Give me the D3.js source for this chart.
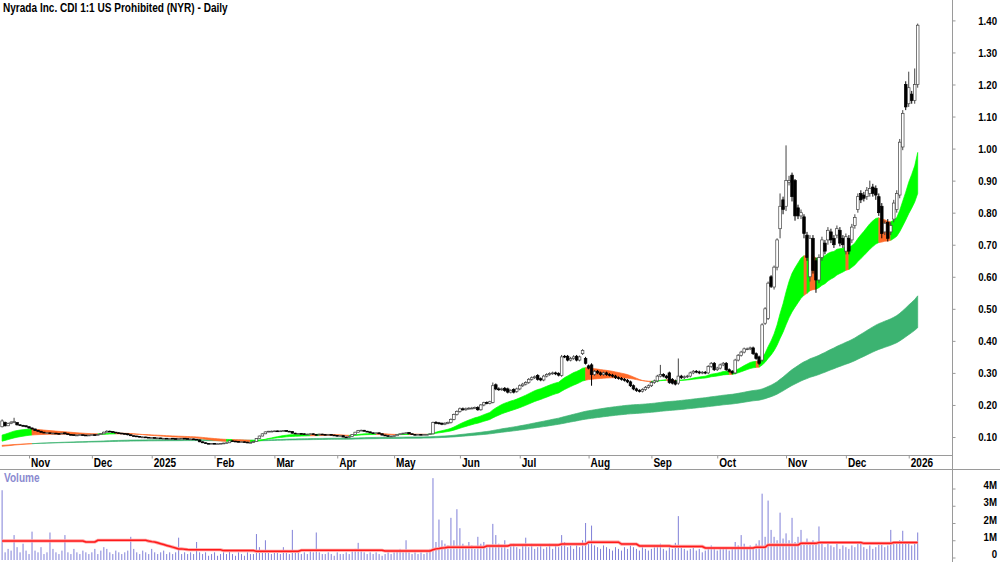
<!DOCTYPE html>
<html><head><meta charset="utf-8">
<script src="https://cdn.jsdelivr.net/npm/d3@7"></script>
<style>body{margin:0;background:#fff}svg{display:block}</style>
</head><body><svg id="c" width="1000" height="562"></svg>
<script>
const chartTitle = "Nyrada Inc. CDI 1:1 US Prohibited (NYR) - Daily";
const firstDay = "2024-10-21";
const holidays = ["2024-12-25","2024-12-26","2025-01-01","2025-01-27","2025-04-18","2025-04-21","2025-04-25","2025-06-09","2025-12-25","2025-12-26","2026-01-01"];
const monthLabels = ["Nov","Dec","2025","Feb","Mar","Apr","May","Jun","Jul","Aug","Sep","Oct","Nov","Dec","2026"];
const priceTicks = [0.1,0.2,0.3,0.4,0.5,0.6,0.7,0.8,0.9,1.0,1.1,1.2,1.3,1.4];
const volumeTicks = [0,1,2,3,4];
const volumeTickLabels = ["0","1M","2M","3M","4M"];

const opens = [
0.132,0.145,0.135,0.142,0.146,0.145,0.138,0.136,0.135,0.132,
0.128,0.125,0.121,0.118,0.115,0.113,0.113,0.112,0.112,0.111,
0.110,0.113,0.110,0.108,0.107,0.106,0.106,0.107,0.106,0.105,
0.106,0.107,0.106,0.108,0.110,0.115,0.118,0.117,0.115,0.113,
0.112,0.111,0.110,0.107,0.104,0.103,0.102,0.100,0.100,0.099,
0.098,0.098,0.097,0.097,0.096,0.096,0.095,0.096,0.095,0.094,
0.095,0.096,0.095,0.094,0.094,0.093,0.091,0.085,0.082,0.080,
0.079,0.080,0.079,0.079,0.080,0.081,0.082,0.088,0.087,0.086,
0.085,0.085,0.084,0.082,0.083,0.086,0.095,0.103,0.110,0.116,
0.118,0.118,0.119,0.118,0.119,0.120,0.118,0.117,0.112,0.110,
0.111,0.110,0.109,0.109,0.110,0.108,0.107,0.109,0.108,0.107,
0.108,0.106,0.105,0.103,0.104,0.100,0.099,0.102,0.108,0.115,
0.120,0.121,0.118,0.116,0.113,0.112,0.113,0.110,0.106,0.104,
0.103,0.103,0.104,0.108,0.110,0.112,0.114,0.110,0.108,0.107,
0.108,0.107,0.108,0.108,0.110,0.146,0.144,0.143,0.140,0.143,
0.145,0.155,0.170,0.180,0.188,0.185,0.188,0.190,0.190,0.192,
0.185,0.200,0.208,0.205,0.208,0.263,0.250,0.248,0.252,0.250,
0.240,0.248,0.242,0.250,0.260,0.265,0.270,0.280,0.285,0.292,
0.282,0.278,0.290,0.295,0.298,0.300,0.298,0.292,0.352,0.352,
0.340,0.345,0.352,0.340,0.360,0.345,0.322,0.325,0.295,0.305,
0.300,0.295,0.300,0.295,0.293,0.290,0.285,0.283,0.280,0.277,
0.272,0.260,0.250,0.245,0.243,0.248,0.255,0.260,0.270,0.275,
0.290,0.295,0.290,0.300,0.280,0.275,0.268,0.290,0.285,0.288,
0.290,0.300,0.305,0.303,0.300,0.302,0.300,0.320,0.330,0.310,
0.315,0.325,0.330,0.310,0.305,0.300,0.340,0.355,0.365,0.375,
0.375,0.378,0.360,0.350,0.340,0.455,0.470,0.600,0.568,0.630,
0.750,0.840,0.820,0.895,0.917,0.900,0.815,0.790,0.787,0.730,
0.600,0.720,0.650,0.590,0.660,0.705,0.715,0.740,0.720,0.730,
0.745,0.720,0.680,0.720,0.715,0.760,0.810,0.860,0.855,0.850,
0.860,0.880,0.875,0.850,0.820,0.740,0.770,0.740,0.780,0.810,
0.855,1.005,1.200,1.140,1.170,1.150,1.200];

const highs = [
0.155,0.148,0.145,0.150,0.160,0.146,0.140,0.138,0.136,0.133,
0.130,0.126,0.122,0.119,0.116,0.115,0.114,0.114,0.113,0.112,
0.113,0.114,0.111,0.109,0.108,0.108,0.109,0.108,0.107,0.107,
0.108,0.108,0.109,0.112,0.117,0.121,0.120,0.118,0.116,0.115,
0.113,0.112,0.111,0.108,0.105,0.104,0.103,0.102,0.101,0.100,
0.099,0.099,0.098,0.098,0.097,0.097,0.096,0.097,0.096,0.096,
0.097,0.097,0.096,0.095,0.095,0.094,0.092,0.086,0.083,0.081,
0.081,0.081,0.080,0.081,0.082,0.083,0.089,0.089,0.088,0.087,
0.086,0.086,0.085,0.084,0.087,0.096,0.104,0.111,0.117,0.119,
0.120,0.120,0.120,0.120,0.121,0.121,0.119,0.118,0.113,0.112,
0.112,0.111,0.110,0.111,0.111,0.109,0.110,0.110,0.109,0.109,
0.109,0.107,0.106,0.105,0.105,0.101,0.103,0.109,0.116,0.122,
0.123,0.122,0.119,0.117,0.114,0.114,0.114,0.111,0.107,0.105,
0.104,0.105,0.109,0.111,0.113,0.115,0.115,0.111,0.109,0.109,
0.109,0.109,0.109,0.111,0.148,0.149,0.147,0.145,0.146,0.148,
0.158,0.173,0.183,0.192,0.192,0.192,0.193,0.194,0.195,0.196,
0.203,0.210,0.211,0.213,0.270,0.267,0.255,0.254,0.256,0.254,
0.249,0.252,0.254,0.264,0.269,0.274,0.284,0.289,0.292,0.296,
0.286,0.294,0.299,0.302,0.304,0.304,0.302,0.356,0.356,0.356,
0.350,0.355,0.356,0.354,0.374,0.350,0.326,0.330,0.309,0.309,
0.304,0.304,0.304,0.299,0.297,0.294,0.289,0.287,0.284,0.281,
0.276,0.264,0.254,0.249,0.252,0.259,0.264,0.274,0.279,0.294,
0.325,0.299,0.294,0.304,0.284,0.279,0.345,0.294,0.292,0.294,
0.304,0.309,0.309,0.307,0.306,0.306,0.324,0.334,0.334,0.319,
0.329,0.334,0.334,0.314,0.309,0.344,0.359,0.369,0.379,0.379,
0.382,0.382,0.364,0.354,0.455,0.505,0.585,0.605,0.635,0.720,
0.860,0.850,1.010,0.915,0.925,0.905,0.825,0.810,0.795,0.740,
0.730,0.730,0.660,0.670,0.725,0.715,0.755,0.750,0.730,0.760,
0.755,0.730,0.735,0.730,0.765,0.795,0.860,0.870,0.865,0.880,
0.900,0.890,0.885,0.860,0.830,0.775,0.780,0.770,0.840,0.870,
1.030,1.120,1.210,1.240,1.180,1.250,1.390];

const lows = [
0.130,0.133,0.134,0.140,0.143,0.136,0.134,0.133,0.130,0.126,
0.123,0.119,0.116,0.113,0.112,0.111,0.110,0.110,0.109,0.108,
0.109,0.108,0.106,0.105,0.104,0.104,0.105,0.104,0.103,0.104,
0.105,0.104,0.105,0.107,0.109,0.114,0.115,0.113,0.112,0.111,
0.109,0.108,0.105,0.103,0.102,0.101,0.099,0.099,0.098,0.097,
0.097,0.096,0.096,0.095,0.095,0.094,0.094,0.094,0.093,0.093,
0.094,0.094,0.093,0.093,0.092,0.091,0.084,0.081,0.079,0.078,
0.078,0.078,0.078,0.078,0.079,0.080,0.081,0.086,0.085,0.084,
0.084,0.083,0.081,0.081,0.082,0.085,0.094,0.102,0.109,0.115,
0.117,0.117,0.117,0.117,0.118,0.117,0.116,0.111,0.109,0.109,
0.109,0.108,0.108,0.108,0.107,0.106,0.106,0.107,0.106,0.106,
0.105,0.104,0.102,0.102,0.099,0.098,0.098,0.101,0.107,0.114,
0.119,0.117,0.115,0.112,0.111,0.111,0.109,0.105,0.103,0.102,
0.102,0.102,0.103,0.107,0.109,0.111,0.109,0.107,0.106,0.106,
0.106,0.106,0.107,0.107,0.108,0.140,0.139,0.137,0.137,0.140,
0.142,0.152,0.167,0.176,0.182,0.182,0.185,0.187,0.187,0.182,
0.182,0.196,0.202,0.202,0.205,0.246,0.244,0.244,0.241,0.236,
0.236,0.236,0.238,0.246,0.256,0.261,0.266,0.276,0.281,0.276,
0.274,0.274,0.286,0.291,0.294,0.293,0.289,0.288,0.346,0.336,
0.336,0.341,0.336,0.336,0.356,0.326,0.311,0.260,0.291,0.296,
0.291,0.291,0.291,0.289,0.286,0.281,0.279,0.276,0.273,0.268,
0.256,0.246,0.241,0.239,0.239,0.244,0.251,0.256,0.266,0.271,
0.286,0.286,0.281,0.266,0.264,0.261,0.263,0.281,0.281,0.284,
0.286,0.296,0.299,0.296,0.296,0.296,0.296,0.316,0.306,0.306,
0.311,0.321,0.306,0.301,0.296,0.296,0.336,0.351,0.361,0.371,
0.371,0.356,0.341,0.325,0.335,0.450,0.465,0.565,0.560,0.620,
0.720,0.795,0.805,0.885,0.835,0.775,0.780,0.780,0.720,0.650,
0.585,0.610,0.550,0.580,0.650,0.670,0.700,0.705,0.690,0.720,
0.695,0.690,0.670,0.670,0.705,0.750,0.800,0.830,0.835,0.840,
0.850,0.850,0.840,0.790,0.720,0.730,0.710,0.730,0.770,0.800,
0.845,0.995,1.120,1.130,1.140,1.140,1.190];

const closes = [
0.150,0.135,0.142,0.146,0.148,0.138,0.136,0.135,0.132,0.128,
0.125,0.120,0.118,0.115,0.113,0.113,0.112,0.112,0.111,0.110,
0.112,0.110,0.108,0.107,0.106,0.106,0.107,0.106,0.105,0.106,
0.107,0.106,0.108,0.110,0.115,0.118,0.117,0.115,0.113,0.112,
0.110,0.110,0.107,0.104,0.103,0.102,0.100,0.100,0.099,0.098,
0.098,0.097,0.097,0.096,0.096,0.095,0.095,0.095,0.094,0.095,
0.096,0.095,0.094,0.094,0.093,0.092,0.085,0.082,0.080,0.079,
0.080,0.079,0.079,0.080,0.081,0.082,0.088,0.087,0.086,0.085,
0.085,0.084,0.082,0.083,0.086,0.095,0.103,0.110,0.116,0.118,
0.118,0.119,0.118,0.119,0.120,0.118,0.117,0.112,0.110,0.111,
0.110,0.109,0.109,0.110,0.108,0.107,0.109,0.108,0.107,0.108,
0.106,0.105,0.103,0.104,0.100,0.099,0.102,0.108,0.115,0.120,
0.121,0.118,0.116,0.113,0.112,0.113,0.110,0.106,0.104,0.103,
0.103,0.104,0.108,0.110,0.112,0.113,0.110,0.108,0.107,0.108,
0.107,0.108,0.108,0.110,0.145,0.143,0.142,0.140,0.143,0.145,
0.155,0.170,0.180,0.188,0.185,0.188,0.190,0.190,0.192,0.185,
0.200,0.207,0.205,0.210,0.260,0.250,0.248,0.250,0.245,0.240,
0.245,0.240,0.250,0.260,0.265,0.270,0.280,0.285,0.288,0.280,
0.278,0.290,0.295,0.298,0.300,0.297,0.293,0.350,0.350,0.340,
0.345,0.350,0.340,0.350,0.370,0.330,0.315,0.295,0.305,0.300,
0.295,0.300,0.295,0.293,0.290,0.285,0.283,0.280,0.277,0.272,
0.260,0.250,0.245,0.243,0.248,0.255,0.260,0.270,0.275,0.290,
0.295,0.290,0.285,0.270,0.268,0.265,0.290,0.285,0.288,0.290,
0.300,0.305,0.303,0.300,0.302,0.300,0.320,0.330,0.310,0.315,
0.325,0.330,0.310,0.305,0.300,0.340,0.355,0.365,0.375,0.375,
0.378,0.360,0.345,0.330,0.450,0.500,0.580,0.570,0.630,0.715,
0.820,0.810,0.900,0.900,0.850,0.790,0.790,0.800,0.735,0.660,
0.720,0.620,0.590,0.660,0.715,0.680,0.745,0.715,0.700,0.750,
0.705,0.700,0.725,0.680,0.755,0.785,0.850,0.840,0.845,0.870,
0.875,0.860,0.855,0.800,0.735,0.767,0.720,0.760,0.830,0.860,
1.020,1.110,1.130,1.190,1.150,1.200,1.385];

// volume in millions of shares
const volumes = [
3.9,0.3,0.5,0.4,1.3,0.6,0.3,0.8,0.4,0.2,
1.5,0.4,0.3,0.6,0.2,0.3,1.45,0.5,0.3,0.2,
0.4,1.3,0.3,0.2,0.5,0.3,0.2,0.4,0.3,0.2,
0.3,0.5,0.2,0.4,0.6,0.5,0.3,0.2,0.4,0.3,
0.2,0.3,0.4,1.2,0.5,0.3,0.2,0.4,0.3,0.2,
0.5,0.3,0.2,0.3,0.4,0.2,0.3,0.2,0.3,1.15,
0.2,0.3,0.2,0.3,0.2,0.9,0.3,0.2,0.3,0.1,
0.2,0.3,0.1,0.2,0.3,0.2,0.4,0.2,0.1,0.3,
0.2,0.1,0.3,0.2,0.2,1.36,0.6,0.3,1.0,0.3,
0.2,0.4,0.3,0.2,0.6,0.3,0.2,1.6,0.4,0.3,
0.2,0.3,0.2,0.4,0.3,1.45,0.3,0.2,0.2,0.3,
0.2,0.1,0.3,0.2,0.2,0.3,0.2,0.4,0.5,0.85,
0.4,0.3,0.2,0.3,0.2,0.3,0.2,0.1,0.2,0.3,
0.2,0.3,0.4,0.5,0.3,1.0,0.3,0.2,0.3,0.2,
0.3,0.2,0.3,0.5,4.6,0.9,2.2,1.0,0.8,0.7,
2.3,1.0,2.8,1.7,0.8,0.6,0.9,0.7,0.5,1.2,
0.8,0.9,0.6,0.7,1.95,1.3,0.8,0.6,1.0,0.5,
0.7,0.8,0.6,0.5,0.7,1.15,0.6,0.8,0.5,0.6,
0.7,0.5,0.6,0.8,0.5,0.7,0.6,1.3,0.9,0.6,
0.7,0.5,0.8,0.6,1.0,2.0,0.9,1.85,0.7,0.6,
0.5,0.7,0.6,0.5,0.4,0.6,0.5,0.4,0.6,0.5,
0.7,0.6,0.5,0.4,0.6,0.5,0.4,0.5,0.6,0.7,
0.8,0.5,0.4,0.6,0.5,0.85,2.4,0.7,0.5,0.4,
0.5,0.6,0.4,0.5,0.3,0.4,0.6,0.7,0.5,0.4,
0.5,0.6,0.5,0.4,0.5,0.9,0.7,1.3,0.8,0.6,
0.7,0.6,0.8,1.0,3.7,1.2,3.3,1.6,1.2,1.0,
2.6,1.1,1.4,1.0,2.3,0.9,1.2,1.6,0.9,1.1,
0.8,1.0,0.9,1.8,0.8,0.6,0.9,0.7,0.6,0.8,
0.5,0.7,0.6,0.5,0.7,0.6,0.9,0.95,0.6,0.5,
0.7,0.5,0.6,0.8,0.9,0.6,0.7,1.6,0.8,0.9,
1.0,1.55,0.9,0.8,0.7,0.9,1.45];

// volume moving average (millions)
const volumeAvg = [
0.96,0.96,0.96,0.96,0.96,0.96,0.96,0.96,0.96,0.96,
0.96,0.96,0.96,0.96,0.96,0.96,0.96,0.96,0.96,0.96,
0.96,0.96,0.96,0.96,0.96,0.96,0.96,0.96,0.90,0.90,
0.90,0.90,1.00,1.00,1.00,1.00,1.00,1.00,1.00,1.00,
1.00,1.00,1.00,1.00,1.00,1.00,1.00,1.00,1.00,0.95,
0.92,0.90,0.85,0.80,0.75,0.70,0.65,0.60,0.55,0.50,
0.50,0.48,0.46,0.45,0.45,0.45,0.45,0.45,0.45,0.45,
0.45,0.45,0.45,0.45,0.40,0.40,0.40,0.40,0.40,0.40,
0.40,0.40,0.40,0.40,0.40,0.36,0.36,0.36,0.36,0.36,
0.36,0.36,0.36,0.36,0.36,0.36,0.36,0.36,0.36,0.36,
0.42,0.42,0.42,0.42,0.42,0.42,0.42,0.42,0.42,0.42,
0.42,0.42,0.42,0.42,0.42,0.42,0.42,0.42,0.42,0.42,
0.42,0.42,0.42,0.42,0.42,0.42,0.42,0.42,0.38,0.38,
0.38,0.38,0.38,0.38,0.38,0.38,0.38,0.38,0.38,0.38,
0.38,0.38,0.38,0.38,0.45,0.50,0.52,0.55,0.57,0.60,
0.60,0.60,0.60,0.60,0.60,0.60,0.60,0.60,0.60,0.60,
0.60,0.60,0.67,0.67,0.67,0.67,0.67,0.67,0.67,0.67,
0.73,0.73,0.73,0.73,0.73,0.73,0.73,0.73,0.73,0.73,
0.73,0.73,0.73,0.73,0.73,0.73,0.73,0.78,0.78,0.78,
0.78,0.78,0.78,0.78,0.78,0.78,0.89,0.89,0.89,0.89,
0.89,0.89,0.89,0.89,0.89,0.89,0.89,0.78,0.78,0.78,
0.78,0.78,0.78,0.67,0.67,0.67,0.67,0.67,0.67,0.67,
0.67,0.67,0.67,0.67,0.64,0.64,0.64,0.64,0.64,0.64,
0.64,0.64,0.64,0.64,0.64,0.55,0.55,0.55,0.55,0.55,
0.55,0.55,0.55,0.55,0.55,0.55,0.55,0.55,0.55,0.55,
0.55,0.55,0.60,0.60,0.60,0.60,0.73,0.73,0.73,0.73,
0.73,0.73,0.73,0.73,0.73,0.73,0.73,0.82,0.82,0.82,
0.82,0.82,0.82,0.87,0.87,0.87,0.87,0.87,0.87,0.87,
0.87,0.87,0.87,0.87,0.87,0.87,0.87,0.87,0.82,0.82,
0.82,0.82,0.82,0.82,0.82,0.82,0.82,0.82,0.87,0.87,
0.87,0.87,0.87,0.87,0.87,0.87,0.87];

// moving-average band settings (periods) and their starting values read at the left edge
const bandPeriods = [20, 40, 150, 225];
const bandStart = [0.106, 0.087, 0.071, 0.074];

// ---------------------------------------------------------------
const svg = d3.select("#c");
const FONT = "'Liberation Sans Narrow', 'Arial Narrow', 'Liberation Sans', Arial, sans-serif";

// trading days
const dates = [];
{
  let d = new Date(firstDay + "T00:00:00Z");
  while (dates.length < closes.length) {
    const wd = d.getUTCDay(), iso = d.toISOString().slice(0, 10);
    if (wd !== 0 && wd !== 6 && !holidays.includes(iso)) dates.push(iso);
    d.setUTCDate(d.getUTCDate() + 1);
  }
}
const monthStarts = dates.filter((d, i) => i > 0 && d.slice(0, 7) !== dates[i - 1].slice(0, 7));

const x = d3.scalePoint().domain(dates).range([2.1, 917.7]);
const y = d3.scaleLinear().domain([0.1, 1.4]).range([437, 20.4]);
const vy = d3.scaleLinear().domain([0, 4]).range([557.5, 488.5]);

function ema(vals, period, seed) {
  const a = 2 / (period + 1); let e = seed;
  return vals.map((v, i) => i === 0 ? e : (e = e + a * (v - e)));
}
const sFast = ema(closes, bandPeriods[0], bandStart[0]);
const sSlow = ema(closes, bandPeriods[1], bandStart[1]);
const lFast = ema(closes, bandPeriods[2], bandStart[2]);
const lSlow = ema(closes, bandPeriods[3], bandStart[3]);

const GREEN = "#00ff00", SEA = "#3cb371", ORANGE = "#ff6a28";

function drawBand(g, a, b, states, colUp, colDown) {
  const n = a.length;
  const area = d3.area().x(k => x(dates[k]))
    .y0(k => y(Math.min(a[k], b[k]))).y1(k => y(Math.max(a[k], b[k])));
  let i = 1;
  while (i < n) {
    const c = states[i]; let j = i;
    while (j + 1 < n && states[j + 1] === c) j++;
    const idx = d3.range(i - 1, j + 1);
    const col = c ? colUp : colDown;
    g.append("path").datum(idx).attr("d", area).attr("fill", col)
      .attr("stroke", col).attr("stroke-width", 0.7).attr("stroke-linejoin", "round");
    i = j + 1;
  }
}
const bands = svg.append("g");
drawBand(bands, lFast, lSlow, lFast.map((v, i) => v >= lSlow[i]), SEA, ORANGE);
drawBand(bands, sFast, sSlow, sFast.map((v, i) => i === 0 ? true : v >= sFast[i - 1]), GREEN, ORANGE);

// candles
const idxs = d3.range(closes.length);
const cg = svg.append("g");
cg.selectAll("line").data(idxs).join("line")
  .attr("x1", i => x(dates[i])).attr("x2", i => x(dates[i]))
  .attr("y1", i => y(highs[i])).attr("y2", i => y(lows[i]))
  .attr("stroke", i => closes[i] >= opens[i] ? "#444" : "#000").attr("stroke-width", 1);
const BW = 2.6;
cg.selectAll("rect").data(idxs).join("rect")
  .attr("x", i => x(dates[i]) - BW / 2).attr("width", BW)
  .attr("y", i => y(Math.max(opens[i], closes[i])))
  .attr("height", i => Math.max(0.8, Math.abs(y(opens[i]) - y(closes[i]))))
  .attr("fill", i => closes[i] >= opens[i] ? "#fff" : "#000")
  .attr("stroke", i => closes[i] >= opens[i] ? "#444" : "#000").attr("stroke-width", 0.7);

// volume
const vg = svg.append("g");
vg.selectAll("rect").data(idxs).join("rect")
  .attr("x", i => x(dates[i]) - 0.5).attr("width", 1)
  .attr("y", i => vy(volumes[i])).attr("height", i => 560 - vy(volumes[i]))
  .attr("fill", "#8080d8");
const avgLine = d3.line().x(i => x(dates[i])).y(i => vy(volumeAvg[i]));
vg.append("path").datum(idxs).attr("d", avgLine).attr("fill", "none").attr("stroke", "#ffa0a0").attr("stroke-width", 3.2);
vg.append("path").datum(idxs).attr("d", avgLine).attr("fill", "none").attr("stroke", "#ff1a1a").attr("stroke-width", 1.5);

// frame lines
svg.append("line").attr("x1", 952.5).attr("x2", 952.5).attr("y1", 0).attr("y2", 562).attr("stroke", "#9a9a9a");
svg.append("line").attr("x1", 0).attr("x2", 952.5).attr("y1", 455.5).attr("y2", 455.5).attr("stroke", "#9a9a9a");
svg.append("line").attr("x1", 0).attr("x2", 1000).attr("y1", 469.5).attr("y2", 469.5).attr("stroke", "#9a9a9a");

// axes
const gx = svg.append("g").attr("transform", "translate(0,455.5)")
  .call(d3.axisBottom(x).tickValues(monthStarts).tickSize(3).tickFormat((d, i) => monthLabels[i]));
gx.select(".domain").remove();
gx.selectAll(".tick line").attr("stroke", "#9a9a9a");
gx.selectAll(".tick text").attr("x", 1.5).attr("y", 12).attr("dy", null).attr("text-anchor", "start")
  .attr("font-size", 12).attr("font-weight", "bold").attr("font-family", FONT).attr("fill", "#000");

const gy = svg.append("g").attr("transform", "translate(952.5,0)")
  .call(d3.axisRight(y).tickValues(priceTicks).tickSize(3).tickFormat(d3.format(".2f")));
gy.select(".domain").remove();
gy.selectAll(".tick line").attr("stroke", "#9a9a9a");
gy.selectAll(".tick text").attr("x", 44.5).attr("text-anchor", "end")
  .attr("font-size", 11.5).attr("font-weight", "bold").attr("font-family", FONT).attr("fill", "#000");

const gv = svg.append("g").attr("transform", "translate(952.5,0)")
  .call(d3.axisRight(vy).tickValues(volumeTicks).tickSize(3).tickFormat((d, i) => volumeTickLabels[i]));
gv.select(".domain").remove();
gv.selectAll(".tick line").attr("stroke", "#9a9a9a");
gv.selectAll(".tick text").attr("x", 44.5).attr("y", -3.5).attr("text-anchor", "end")
  .attr("font-size", 11.5).attr("font-weight", "bold").attr("font-family", FONT).attr("fill", "#000");

// title and volume label
const title = svg.append("text").attr("x", 3).attr("y", 12).text(chartTitle)
  .attr("font-size", 12).attr("font-weight", "bold").attr("font-family", FONT).attr("fill", "#000");
svg.append("text").attr("x", 4).attr("y", 482).text("Volume")
  .attr("font-size", 12).attr("font-weight", "bold").attr("font-family", FONT).attr("fill", "#8a8ad0");

// narrow the type to match the condensed face of the original
const sx = Math.min(1.08, 225 / title.node().getComputedTextLength());
svg.selectAll("text").each(function () {
  const tx = +this.getAttribute("x") || 0;
  this.setAttribute("transform", `translate(${tx},0) scale(${sx},1) translate(${-tx},0)`);
});
</script></body></html>
